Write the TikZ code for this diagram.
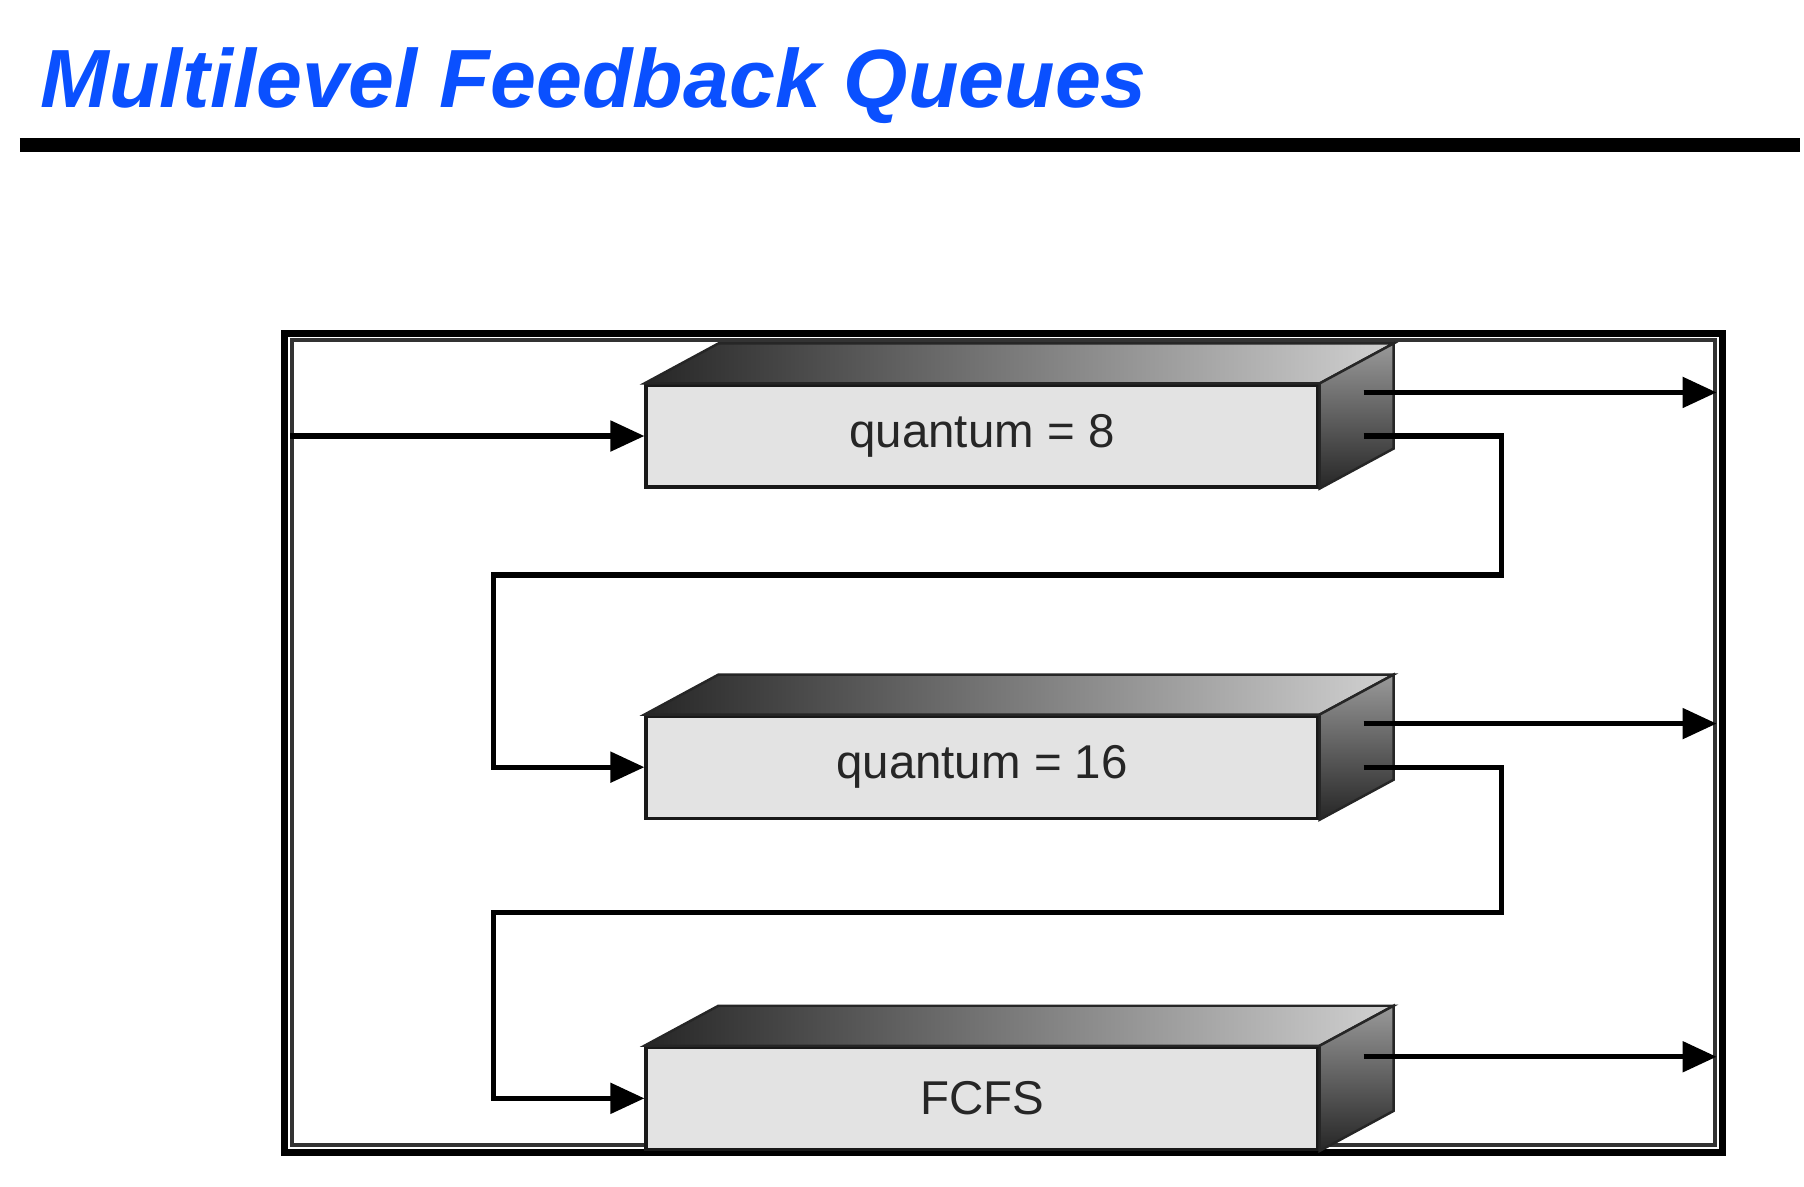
\documentclass[tikz,border=0pt]{standalone}
\usepackage{fontspec}
\setmainfont{Liberation Sans}
\usepackage{xcolor}
\usepackage{tikz}
\usetikzlibrary{positioning}
\usetikzlibrary{arrows.meta}

\definecolor{titleblue}{RGB}{10,80,255}

\tikzset{
	queue/.style={draw=black!90, line width=0.9pt, fill=black!11, text=black!85,
		minimum width=6.72cm, minimum height=1.02cm, inner sep=0pt,
		font=\fontsize{13.5}{16}\selectfont},
	flow/.style={line width=1.5pt, -{Triangle[length=3.4mm,width=3mm]}},
}

% top and side faces of a queue box
\newcommand{\queuedepth}[1]{%
	\draw[left color=black!85, right color=black!18, draw=black!85, line width=0.7pt]
		(#1.north west) -- ++(0.74,0.40) -- ([shift={(0.74,0.40)}]#1.north east) -- (#1.north east) -- cycle;
	\draw[top color=black!40, bottom color=black!85, draw=black!85, line width=0.7pt]
		(#1.north east) -- ++(0.74,0.40) -- ([shift={(0.74,0.40)}]#1.south east) -- (#1.south east) -- cycle;
}

\begin{document}
\begin{tikzpicture}
	\useasboundingbox (0,0) rectangle (18.04,-11.86);

	\node (title) [anchor=base west, inner sep=0pt, text=titleblue,
		font=\fontsize{23.5}{28}\selectfont\bfseries\itshape] at (0.40,-1.07) {Multilevel Feedback Queues};
	\draw[line width=0.14cm] (0.20,-1.45) -- (18.00,-1.45);

	\draw[line width=0.07cm] (2.845,-3.33) rectangle (17.225,-11.525);
	\node (frame) [draw=black!80, line width=0.9pt, minimum width=14.23cm, minimum height=8.05cm, inner sep=0pt] at (10.035,-7.425) {};

	\node[queue] (q1) at (9.82,-4.36) {quantum = 8};
	\node[queue] (q2) [below = 2.26cm of q1] {quantum = 16};
	\node[queue] (q3) [below = 2.26cm of q2] {FCFS};
	\queuedepth{q1}
	\queuedepth{q2}
	\queuedepth{q3}

	\coordinate (o1) at ([xshift=4.4mm,yshift=-0.9mm]q1.north east);
	\coordinate (o2) at ([xshift=4.4mm,yshift=-0.9mm]q2.north east);
	\coordinate (o3) at ([xshift=4.4mm,yshift=-1.1mm]q3.north east);
	\coordinate (f1) at ([xshift=4.4mm]q1.east);
	\coordinate (f2) at ([xshift=4.4mm]q2.east);

	\draw[flow] (frame.west |- q1.west) -- (q1.west);
	\draw[flow] (o1) -- (o1 -| frame.east);
	\draw[flow] (o2) -- (o2 -| frame.east);
	\draw[flow] (o3) -- (o3 -| frame.east);
	\draw[flow] (f1) -| ++(1.38,-1.39) -| ([xshift=-1.51cm]q2.west) -- (q2.west);
	\draw[flow] (f2) -| ++(1.38,-1.45) -| ([xshift=-1.51cm]q3.west) -- (q3.west);
\end{tikzpicture}
\end{document}
